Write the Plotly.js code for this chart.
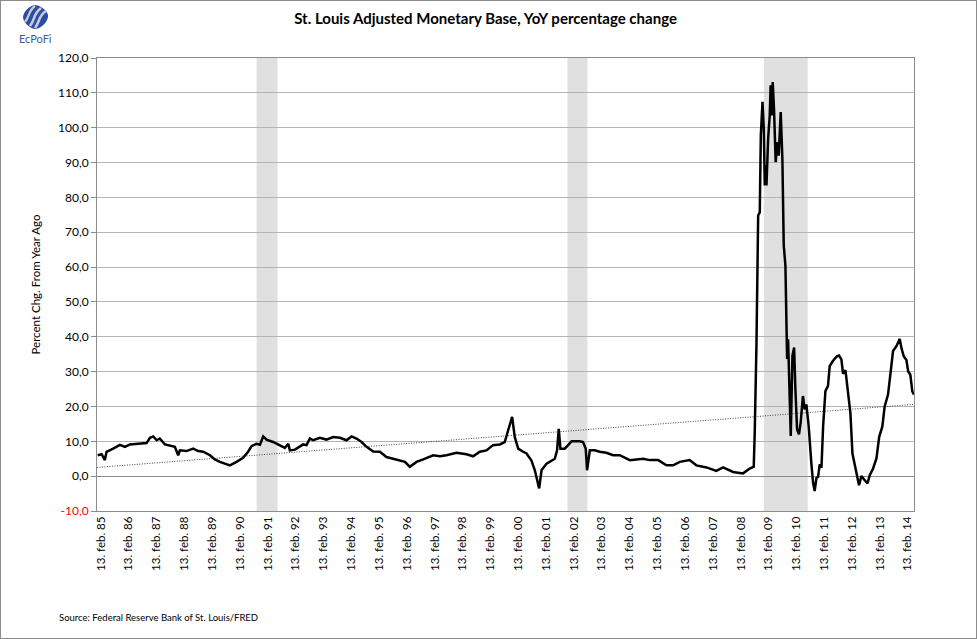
<!DOCTYPE html>
<html>
<head>
<meta charset="utf-8">
<script src="https://cdn.plot.ly/plotly-3.0.1.min.js"></script>
<style>
html,body{margin:0;padding:0;background:#fff;overflow:hidden;}
#chart{width:975px;height:637px;border:1px solid #8c8c8c;}
</style>
</head>
<body>
<div id="chart"></div>
<script>
// ---- data ----
const dates = ['1985-01-01','1985-02-22','1985-04-05','1985-04-27','1985-07-23','1985-10-20','1985-12-25','1986-02-28','1986-06-17','1986-10-05','1986-11-18','1987-01-01','1987-02-14','1987-03-27','1987-06-02','1987-08-06','1987-10-11','1987-11-24','1987-12-16','1988-03-12','1988-06-08','1988-08-13','1988-10-18','1989-01-14','1989-03-19','1989-05-24','1989-10-03','1989-12-29','1990-03-25','1990-05-30','1990-07-13','1990-09-18','1990-11-01','1990-12-14','1991-01-27','1991-04-23','1991-07-20','1991-09-24','1991-11-08','1991-11-29','1992-02-04','1992-04-08','1992-05-22','1992-07-05','1992-08-18','1992-10-01','1992-12-27','1993-03-23','1993-06-20','1993-09-16','1993-12-12','1994-02-16','1994-04-22','1994-06-27','1994-09-01','1994-11-27','1995-02-23','1995-05-20','1995-08-16','1995-11-12','1996-01-17','1996-03-22','1996-06-18','1996-09-14','1997-01-23','1997-04-20','1997-07-16','1997-11-25','1998-04-04','1998-07-01','1998-09-27','1998-12-23','1999-03-19','1999-06-16','1999-08-20','1999-10-03','1999-11-25','1999-12-30','2000-02-13','2000-04-18','2000-06-01','2000-08-05','2000-09-18','2000-11-14','2000-12-15','2001-02-19','2001-04-24','2001-06-07','2001-07-07','2001-07-29','2001-08-20','2001-10-16','2001-11-29','2002-01-13','2002-04-30','2002-06-13','2002-07-18','2002-08-05','2002-09-10','2002-11-14','2003-01-19','2003-04-15','2003-07-12','2003-10-08','2004-02-17','2004-05-14','2004-08-10','2004-11-06','2005-02-24','2005-06-12','2005-09-08','2005-12-04','2006-04-13','2006-07-10','2006-11-19','2007-03-29','2007-06-25','2007-11-04','2008-03-13','2008-06-10','2008-08-01','2008-08-14','2008-09-06','2008-09-28','2008-10-19','2008-11-02','2008-11-24','2008-12-11','2008-12-24','2009-01-07','2009-01-15','2009-02-06','2009-02-27','2009-03-11','2009-03-24','2009-04-07','2009-04-24','2009-05-16','2009-06-03','2009-06-25','2009-07-21','2009-08-12','2009-08-30','2009-09-21','2009-10-13','2009-10-26','2009-11-17','2009-11-30','2009-12-22','2010-01-13','2010-01-30','2010-02-21','2010-03-18','2010-04-09','2010-05-09','2010-06-01','2010-06-23','2010-07-23','2010-08-27','2010-09-19','2010-10-10','2010-11-02','2010-11-24','2010-12-15','2011-01-07','2011-01-29','2011-02-28','2011-04-03','2011-04-25','2011-06-08','2011-07-29','2011-08-25','2011-09-26','2011-10-17','2011-11-18','2011-12-22','2012-01-22','2012-02-18','2012-03-18','2012-04-10','2012-05-14','2012-06-14','2012-07-28','2012-09-02','2012-10-02','2012-11-15','2012-12-29','2013-02-03','2013-03-16','2013-04-16','2013-05-30','2013-06-30','2013-08-04','2013-09-17','2013-10-31','2013-11-22','2013-12-22','2014-01-27','2014-02-18','2014-03-19','2014-04-14','2014-05-06'];
const yoy = [6.0,6.3,4.6,7.0,7.9,9.0,8.4,9.1,9.3,9.5,11.0,11.4,10.3,10.8,9.1,8.7,8.4,6.0,7.4,7.2,7.9,7.2,7.0,6.0,4.8,4.1,3.1,4.1,5.3,7.0,8.6,9.3,9.0,11.4,10.5,9.8,8.9,8.1,9.3,7.4,7.6,8.4,9.1,8.9,10.8,10.3,11.0,10.5,11.2,11.0,10.3,11.4,10.8,9.8,8.4,7.1,7.0,5.5,5.0,4.4,4.1,2.7,4.1,4.8,6.0,5.7,6.0,6.7,6.3,5.7,7.0,7.4,8.9,9.1,9.8,13.1,17.0,11.2,7.9,7.0,6.5,4.5,1.7,-3.5,1.7,3.6,4.3,5.0,7.4,13.6,7.9,7.9,8.9,10.0,10.0,9.8,7.9,1.7,7.4,7.4,7.0,6.7,6.0,6.0,4.6,4.9,5.0,4.6,4.6,3.1,3.1,4.1,4.6,3.1,2.5,1.5,2.5,1.2,0.8,2.2,2.7,12.5,38.0,74.8,75.7,97.8,107.4,99.7,83.4,89.2,83.4,96.8,103.5,112.2,103.5,113.1,105.5,90.1,95.9,92.0,104.5,91.1,66.2,60.4,33.6,39.3,22.0,11.5,34.5,36.9,24.9,13.4,12.0,15.3,23.0,19.2,20.6,14.4,3.8,-1.9,-4.3,-0.5,-0.2,3.4,2.4,14.4,24.4,25.9,31.6,33.1,34.4,34.6,33.5,29.4,30.4,24.8,18.1,6.5,3.2,0.3,-2.6,0.0,-1.2,-2.1,0.3,2.2,5.1,11.3,14.2,20.0,23.4,28.7,35.9,37.3,39.4,36.8,34.4,33.3,30.1,29.1,24.3,23.4];

// linear trend (endpoints)
const trendDates = ['1984-12-23','2014-05-06'];
const trendValues = [2.5, 20.6];

// shaded recession bands (as placed in the reference)
const recessionStart = ['1990-09-18','2001-11-21','2008-12-11'];
const recessionEnd   = ['1991-06-20','2002-08-10','2010-07-10'];

// axis ticks
const tickYears = [85,86,87,88,89,90,91,92,93,94,95,96,97,98,99,0,1,2,3,4,5,6,7,8,9,10,11,12,13,14];
const yTickVals = [-10,0,10,20,30,40,50,60,70,80,90,100,110,120];

const FONT = 'Lato, "Open Sans", sans-serif';
const pad2 = n => (n < 10 ? '0' : '') + n;
const xTickVals = tickYears.map(y => (y >= 50 ? 1900 + y : 2000 + y) + '-02-13');
const xTickText = tickYears.map(y => '13. feb. ' + pad2(y));
const yTickText = yTickVals.map(v => {
  const s = v.toFixed(1).replace('.', ',');
  return v < 0 ? '<span style="color:#ff0000">' + s + '</span>' : s;
});

const shapes = recessionStart.map((s, i) => ({
  type: 'rect', xref: 'x', yref: 'paper', x0: s, x1: recessionEnd[i], y0: 0, y1: 1,
  fillcolor: '#e0e0e0', line: {width: 0}, layer: 'below'
}));

const logoSvg = '<svg xmlns="http://www.w3.org/2000/svg" width="30" height="26" viewBox="0 0 30 26">' +
  '<path d="M14 1 C21 2 28 8 27 13 C26 19 19 25 14 25 C8 24 2 18 2 13 C3 7 8 2 14 1 Z" fill="#2b4da3"/>' +
  '<path d="M9 22 C14 16 12 10 20 4" stroke="#c9ccd4" stroke-width="2.6" fill="none"/>' +
  '<path d="M14 24 C19 18 17 12 25 7" stroke="#c9ccd4" stroke-width="2.6" fill="none"/>' +
  '<path d="M4 18 C9 12 7 7 14 2" stroke="#c9ccd4" stroke-width="2.2" fill="none"/>' +
  '</svg>';

const data = [
  {x: trendDates, y: trendValues, type: 'scatter', mode: 'lines',
   line: {color: '#444444', width: 1, dash: '1px,1.5px'}, hoverinfo: 'skip'},
  {x: dates, y: yoy, type: 'scatter', mode: 'lines',
   line: {color: '#000000', width: 2.5}}
];

const layout = {
  width: 975, height: 637,
  margin: {l: 96, r: 62, t: 57, b: 127},
  paper_bgcolor: '#ffffff', plot_bgcolor: '#ffffff',
  showlegend: false,
  font: {family: FONT, color: '#000000', size: 11},
  title: {text: '<b>St. Louis Adjusted Monetary Base, YoY percentage change</b>',
          font: {family: FONT, size: 15, color: '#000000'},
          x: 0.497, xref: 'container', xanchor: 'center', y: 0.972, yref: 'container', yanchor: 'middle'},
  xaxis: {
    type: 'date', range: ['1984-12-23', '2014-05-06'],
    tickmode: 'array', tickvals: xTickVals, ticktext: xTickText, tickangle: -90,
    tickfont: {family: FONT, size: 11.5}, ticks: '', showgrid: false,
    showline: true, linecolor: '#8c8c8c', linewidth: 1, mirror: true,
    zeroline: false, fixedrange: true
  },
  yaxis: {
    range: [-10, 120], tickmode: 'array', tickvals: yTickVals, ticktext: yTickText,
    tickfont: {family: FONT, size: 12}, ticks: 'outside', ticklen: 5, tickcolor: '#8c8c8c',
    showgrid: true, gridcolor: '#b4b4b4', gridwidth: 1,
    zeroline: true, zerolinecolor: '#8c8c8c', zerolinewidth: 1,
    showline: true, linecolor: '#8c8c8c', linewidth: 1, mirror: true,
    title: {text: 'Percent Chg. From Year Ago', font: {family: FONT, size: 11.5}, standoff: 14},
    fixedrange: true
  },
  shapes: shapes,
  images: [{
    source: 'data:image/svg+xml;charset=utf-8,' + encodeURIComponent(logoSvg),
    xref: 'paper', yref: 'paper', x: -76/817, y: 1 + 54/453,
    sizex: 30/817, sizey: 26/453, xanchor: 'left', yanchor: 'top', sizing: 'stretch', layer: 'above'
  }],
  annotations: [
    {text: 'EcPoFi', xref: 'paper', yref: 'paper', x: -62/817, y: 1 + 20/453,
     xanchor: 'center', yanchor: 'middle', showarrow: false,
     font: {family: FONT, size: 11, color: '#44589a'}},
    {text: 'Source: Federal Reserve Bank of St. Louis/FRED', xref: 'paper', yref: 'paper',
     x: -40/817, y: -106/453, xanchor: 'left', yanchor: 'middle', showarrow: false,
     font: {family: FONT, size: 9.5, color: '#000000'}}
  ]
};

Plotly.newPlot('chart', data, layout, {displayModeBar: false, staticPlot: true});
</script>
</body>
</html>
